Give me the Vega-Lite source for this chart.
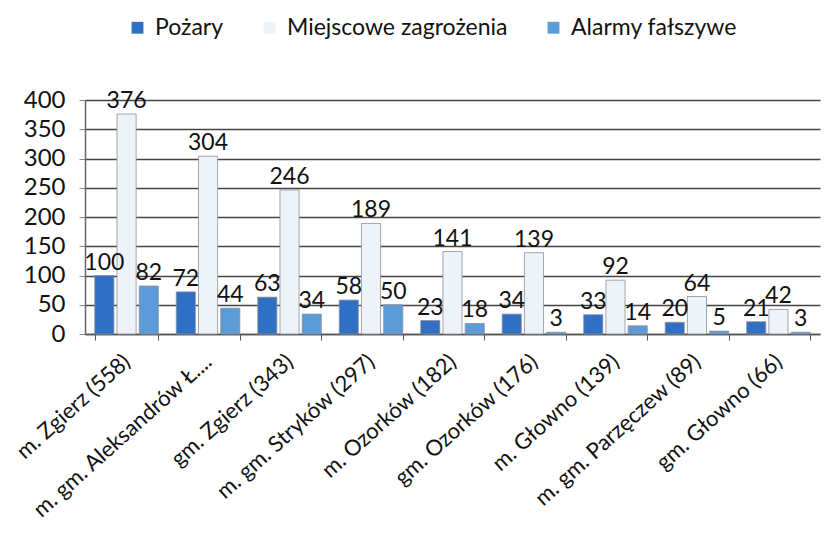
{
  "$schema": "https://vega.github.io/schema/vega-lite/v6.json",
  "autosize": "none",
  "width": 735,
  "height": 234,
  "padding": {"left": 85, "top": 100, "right": 10, "bottom": 201},
  "background": "white",
  "config": {
    "font": "Lato",
    "view": {"stroke": null}
  },
  "data": {
    "values": [
      {"gmina": "m. Zgierz (558)", "seria": "Pożary", "value": 100},
      {"gmina": "m. Zgierz (558)", "seria": "Miejscowe zagrożenia", "value": 376},
      {"gmina": "m. Zgierz (558)", "seria": "Alarmy fałszywe", "value": 82},
      {"gmina": "m. gm. Aleksandrów Ł....", "seria": "Pożary", "value": 72},
      {"gmina": "m. gm. Aleksandrów Ł....", "seria": "Miejscowe zagrożenia", "value": 304},
      {"gmina": "m. gm. Aleksandrów Ł....", "seria": "Alarmy fałszywe", "value": 44},
      {"gmina": "gm. Zgierz (343)", "seria": "Pożary", "value": 63},
      {"gmina": "gm. Zgierz (343)", "seria": "Miejscowe zagrożenia", "value": 246},
      {"gmina": "gm. Zgierz (343)", "seria": "Alarmy fałszywe", "value": 34},
      {"gmina": "m. gm. Stryków (297)", "seria": "Pożary", "value": 58},
      {"gmina": "m. gm. Stryków (297)", "seria": "Miejscowe zagrożenia", "value": 189},
      {"gmina": "m. gm. Stryków (297)", "seria": "Alarmy fałszywe", "value": 50},
      {"gmina": "m. Ozorków (182)", "seria": "Pożary", "value": 23},
      {"gmina": "m. Ozorków (182)", "seria": "Miejscowe zagrożenia", "value": 141},
      {"gmina": "m. Ozorków (182)", "seria": "Alarmy fałszywe", "value": 18},
      {"gmina": "gm. Ozorków (176)", "seria": "Pożary", "value": 34},
      {"gmina": "gm. Ozorków (176)", "seria": "Miejscowe zagrożenia", "value": 139},
      {"gmina": "gm. Ozorków (176)", "seria": "Alarmy fałszywe", "value": 3},
      {"gmina": "m. Głowno (139)", "seria": "Pożary", "value": 33},
      {"gmina": "m. Głowno (139)", "seria": "Miejscowe zagrożenia", "value": 92},
      {"gmina": "m. Głowno (139)", "seria": "Alarmy fałszywe", "value": 14},
      {"gmina": "m. gm. Parzęczew (89)", "seria": "Pożary", "value": 20},
      {"gmina": "m. gm. Parzęczew (89)", "seria": "Miejscowe zagrożenia", "value": 64},
      {"gmina": "m. gm. Parzęczew (89)", "seria": "Alarmy fałszywe", "value": 5},
      {"gmina": "gm. Głowno (66)", "seria": "Pożary", "value": 21},
      {"gmina": "gm. Głowno (66)", "seria": "Miejscowe zagrożenia", "value": 42},
      {"gmina": "gm. Głowno (66)", "seria": "Alarmy fałszywe", "value": 3}
    ]
  },
  "encoding": {
    "x": {
      "field": "gmina",
      "type": "nominal",
      "sort": null,
      "scale": {"paddingInner": 0.22, "paddingOuter": 0.12},
      "axis": {
        "title": null,
        "labelAngle": -42,
        "labelAlign": "right",
        "labelBaseline": "middle",
        "labelFontSize": 22,
        "labelColor": "#111",
        "labelPadding": 18,
        "labelDx": -6,
        "labelLimit": 400,
        "tickBand": "extent",
        "tickColor": "#555",
        "tickSize": 6,
        "domainColor": "#555",
        "domainWidth": 1.5
      }
    },
    "xOffset": {"field": "seria", "type": "nominal", "sort": ["Pożary", "Miejscowe zagrożenia", "Alarmy fałszywe"], "scale": {"paddingInner": 0.14}},
    "y": {
      "field": "value",
      "type": "quantitative",
      "scale": {"domain": [0, 400]},
      "axis": {
        "title": null,
        "values": [0, 50, 100, 150, 200, 250, 300, 350, 400],
        "labelFontSize": 24,
        "labelColor": "#111",
        "labelPadding": 14,
        "gridColor": "#444",
        "gridWidth": 1.5,
        "tickColor": "#888",
        "tickSize": 6,
        "domainColor": "#666",
        "domainWidth": 1.5
      }
    }
  },
  "layer": [
    {
      "mark": {"type": "bar", "stroke": "#8a9099", "strokeWidth": 0.8},
      "encoding": {
        "color": {
          "field": "seria",
          "type": "nominal",
          "sort": ["Pożary", "Miejscowe zagrożenia", "Alarmy fałszywe"],
          "scale": {
            "domain": ["Pożary", "Miejscowe zagrożenia", "Alarmy fałszywe"],
            "range": ["#2f6fc4", "#eef3fa", "#5b9bd8"]
          },
          "legend": {
            "title": null,
            "orient": "none",
            "direction": "horizontal",
            "legendX": 41,
            "legendY": -84,
            "symbolType": "square",
            "symbolSize": 140,
            "symbolStrokeWidth": 0,
            "labelFontSize": 23,
            "labelLimit": 400,
            "labelColor": "#111",
            "columnPadding": 34,
            "labelOffset": 6
          }
        }
      }
    },
    {
      "mark": {"type": "text", "dy": -13, "fontSize": 23, "color": "#111"},
      "encoding": {
        "text": {"field": "value", "type": "quantitative"}
      }
    }
  ]
}
